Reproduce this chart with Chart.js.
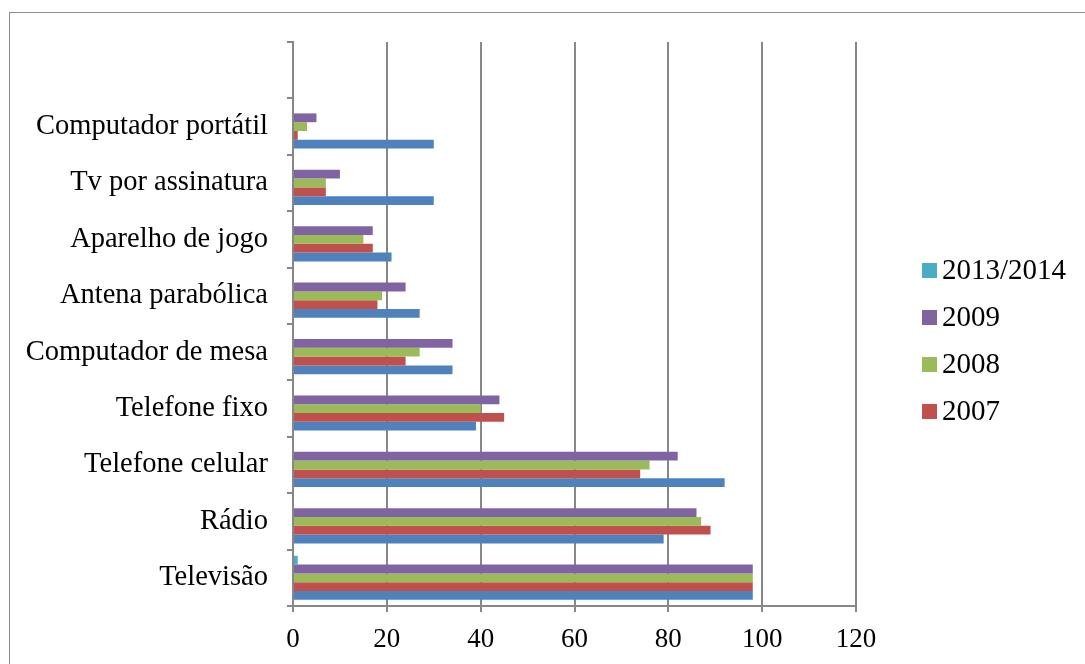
<!DOCTYPE html>
<html>
<head>
<meta charset="utf-8">
<script src="https://cdn.jsdelivr.net/npm/chart.js@4"></script>
<style>
  body { margin: 0; background: #fff; }
  #frame { position: absolute; left: 9px; top: 12px; width: 1100px; height: 700px; border: 1px solid #8c8c8c; }
  #wrap { position: absolute; left: 0; top: 0; width: 1085px; height: 664px; }
</style>
</head>
<body>
<div id="frame"></div>
<div id="wrap"><canvas id="myChart" width="1085" height="664"></canvas></div>
<script>
// categories bottom to top, last one is the empty slot at the top
var categories = ['Televisão', 'Rádio', 'Telefone celular', 'Telefone fixo', 'Computador de mesa',
                  'Antena parabólica', 'Aparelho de jogo', 'Tv por assinatura', 'Computador portátil', ''];
var serie2013 = [1, null, null, null, null, null, null, null, null, null];
var serie2009 = [98, 86, 82, 44, 34, 24, 17, 10, 5, null];
var serie2008 = [98, 87, 76, 40, 27, 19, 15, 7, 3, null];
var serie2007 = [98, 89, 74, 45, 24, 18, 17, 7, 1, null];
var serieAzul = [98, 79, 92, 39, 34, 27, 21, 30, 30, null];
var xTicks = [0, 20, 40, 60, 80, 100, 120];

var fonteCat = { family: '"Liberation Serif", serif', size: 28.5 };
var fonteX = { family: '"Liberation Serif", serif', size: 27 };
var cinza = '#878787';

// legend on the right, drawn by hand so it can sit where the original has it
var sideLegend = {
    id: 'sideLegend',
    afterDraw: function (chart) {
        var ctx = chart.ctx;
        ctx.save();
        ctx.font = '29px "Liberation Serif", serif';
        ctx.textBaseline = 'middle';
        var y = 270;
        chart.data.datasets.forEach(function (ds) {
            if (!ds.label) return;
            ctx.fillStyle = ds.backgroundColor;
            ctx.fillRect(922, y - 7, 15, 15);
            ctx.fillStyle = '#000';
            ctx.fillText(ds.label, 942, y + 1);
            y += 47;
        });
        ctx.restore();
    }
};

var chartdata = {
    labels: categories,
    datasets: [
        { label: '2013/2014', backgroundColor: '#4BACC6', data: serie2013 },
        { label: '2009', backgroundColor: '#8064A2', data: serie2009 },
        { label: '2008', backgroundColor: '#9BBB59', data: serie2008 },
        { label: '2007', backgroundColor: '#C0504D', data: serie2007 },
        { label: '', backgroundColor: '#4F81BD', data: serieAzul }
    ]
};

new Chart(document.getElementById('myChart'), {
    type: 'bar',
    data: chartdata,
    plugins: [sideLegend],
    options: {
        responsive: false,
        animation: false,
        indexAxis: 'y',
        categoryPercentage: 0.78,
        barPercentage: 1,
        layout: { padding: { top: 42, right: 229, left: 0, bottom: 0 } },
        plugins: {
            legend: { display: false },
            tooltip: { enabled: false }
        },
        scales: {
            x: {
                min: 0,
                max: 120,
                afterBuildTicks: function (s) { s.ticks = xTicks.map(function (v) { return { value: v }; }); },
                ticks: { font: fonteX, color: '#000', padding: 12 },
                grid: { color: cinza, lineWidth: 2, tickLength: 6 },
                border: { color: cinza, width: 2 },
                afterFit: function (s) { s.height = 58; }
            },
            y: {
                reverse: true,
                ticks: { font: fonteCat, color: '#000', padding: 19 },
                grid: { drawOnChartArea: false, offset: true, color: cinza, lineWidth: 2, tickLength: 6 },
                border: { color: cinza, width: 2 },
                afterFit: function (s) { s.width = 293; }
            }
        }
    }
});
</script>
</body>
</html>
